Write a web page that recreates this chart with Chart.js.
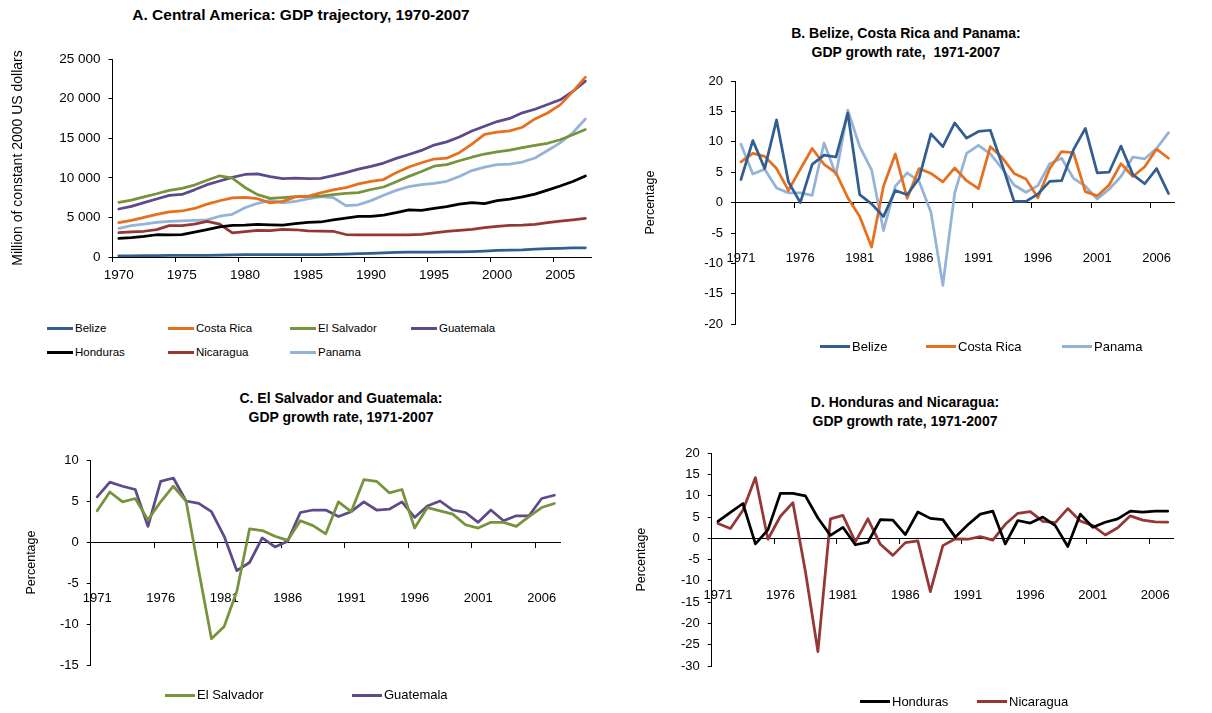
<!DOCTYPE html>
<html><head><meta charset="utf-8">
<script src="https://cdn.jsdelivr.net/npm/chart.js@4.4.1/dist/chart.umd.min.js"></script>
<style>
html,body{margin:0;padding:0;background:#fff}
body{width:1212px;height:713px;position:relative;overflow:hidden;font-family:"Liberation Sans",Arial,sans-serif;color:#000}
canvas{position:absolute}
.title{position:absolute;font-weight:bold;font-size:14px;line-height:19px;text-align:center;width:600px;white-space:nowrap}
.leg{position:absolute;display:flex;align-items:center;white-space:nowrap;height:16px;line-height:16px}
.leg i{display:inline-block;height:3px;margin-right:2px}
</style></head><body>
<div class="title" style="left:1px;top:5px;font-size:15.5px">A. Central America: GDP trajectory, 1970-2007</div>
<div class="title" style="left:606px;top:23.5px">B. Belize, Costa Rica and Panama:<br>GDP growth rate,&nbsp; 1971-2007</div>
<div class="title" style="left:41px;top:388.5px">C. El Salvador and Guatemala:<br>GDP growth rate, 1971-2007</div>
<div class="title" style="left:605px;top:392.5px">D. Honduras and Nicaragua:<br>GDP growth rate, 1971-2007</div>
<canvas id="cA" width="600" height="290" style="left:0;top:0"></canvas>
<canvas id="cB" width="606" height="340" style="left:606px;top:0"></canvas>
<canvas id="cC" width="600" height="333" style="left:0;top:380px"></canvas>
<canvas id="cD" width="606" height="333" style="left:606px;top:380px"></canvas>
<script>
// ---------- data ----------
const yearsA = ['1970','1971','1972','1973','1974','1975','1976','1977','1978','1979','1980','1981','1982','1983','1984','1985','1986','1987','1988','1989','1990','1991','1992','1993','1994','1995','1996','1997','1998','1999','2000','2001','2002','2003','2004','2005','2006','2007'];
const yearsG = ['1971','1972','1973','1974','1975','1976','1977','1978','1979','1980','1981','1982','1983','1984','1985','1986','1987','1988','1989','1990','1991','1992','1993','1994','1995','1996','1997','1998','1999','2000','2001','2002','2003','2004','2005','2006','2007'];
const gdpTicks = [0, 5000, 10000, 15000, 20000, 25000];

// Panel A: GDP, million of constant 2000 US dollars
const gdpBelize     = [145,151,166,175,199,206,206,219,236,254,291,295,294,287,293,297,309,344,376,425,470,525,588,624,625,627,635,657,681,740,831,872,915,1000,1046,1078,1138,1155];
const gdpCostaRica  = [4330,4630,5000,5390,5690,5810,6130,6670,7100,7470,7530,7360,6830,7020,7590,7650,8090,8480,8750,9240,9560,9780,10650,11360,11900,12370,12470,13170,14250,15490,15760,15930,16380,17430,18180,19210,20880,22700];
const gdpElSalvador = [6900,7180,7600,7990,8420,8660,9080,9690,10250,9950,8780,7870,7400,7510,7620,7670,7690,7890,8040,8120,8520,8840,9490,10180,10790,11460,11660,12150,12600,13000,13270,13490,13800,14100,14360,14810,15430,16090];
const gdpGuatemala  = [6060,6400,6870,7320,7780,7900,8480,9130,9600,10050,10420,10500,10140,9900,9950,9900,9920,10270,10660,11100,11440,11860,12450,12940,13460,14130,14540,15150,15900,16500,17100,17500,18200,18650,19250,19850,20900,22200];
const gdpHonduras   = [2360,2450,2600,2810,2780,2830,3130,3460,3810,3990,4020,4120,4060,4020,4200,4380,4420,4690,4910,5130,5140,5300,5600,5960,5880,6130,6350,6670,6870,6740,7120,7310,7590,7940,8450,8970,9540,10230];
const gdpNicaragua  = [3070,3180,3250,3460,3960,3950,4150,4500,4150,3050,3190,3360,3330,3490,3440,3300,3270,3250,2840,2790,2790,2780,2790,2780,2870,3040,3230,3360,3480,3720,3870,3990,4020,4120,4340,4530,4700,4880];
const gdpPanama     = [3620,3970,4150,4380,4490,4560,4630,4690,5150,5390,6210,6780,7150,6820,7010,7350,7630,7510,6490,6590,7120,7790,8410,8880,9140,9300,9560,10170,10910,11350,11660,11730,11990,12500,13440,14410,15690,17420];

// Panels B-D: GDP growth rate, percentage
const growthBelize     = [3.8,10.2,5.6,13.6,3.4,0.0,6.3,7.8,7.5,14.7, 1.3,-0.2,-2.3,2.0,1.3,4.0,11.3,9.2,13.1,10.6, 11.7,11.9,6.2,0.2,0.2,1.4,3.5,3.6,8.7,12.2, 4.9,5.0,9.3,4.6,3.1,5.6,1.5];
const growthCostaRica  = [6.7,8.1,7.6,5.6,2.0,5.5,8.9,6.3,4.9,0.8, -2.3,-7.3,2.7,8.0,0.7,5.6,4.8,3.4,5.7,3.6, 2.3,9.2,7.4,4.8,3.9,0.8,5.6,8.4,8.2,1.8, 1.1,2.9,6.4,4.3,5.9,8.8,7.3];
const growthPanama     = [9.6,4.7,5.5,2.4,1.6,1.6,1.2,9.8,4.6,15.2, 9.2,5.4,-4.6,2.7,4.9,3.5,-1.6,-13.6,1.6,8.1, 9.4,8.0,5.6,2.9,1.7,2.8,6.4,7.3,4.0,2.7, 0.6,2.2,4.3,7.5,7.2,8.9,11.5];
const growthElSalvador = [3.8,6.1,4.9,5.3,2.7,4.9,6.8,5.0,-3.5,-11.8, -10.3,-6.0,1.6,1.4,0.7,0.2,2.6,2.0,1.0,4.9, 3.7,7.6,7.4,6.0,6.4,1.7,4.2,3.8,3.4,2.1, 1.7,2.4,2.4,1.9,3.1,4.2,4.7];
const growthGuatemala  = [5.5,7.3,6.8,6.4,1.9,7.4,7.8,5.0,4.7,3.7, 0.7,-3.5,-2.5,0.5,-0.6,0.1,3.6,3.9,3.9,3.1, 3.7,4.9,3.9,4.0,4.9,3.0,4.4,5.0,3.9,3.6, 2.4,3.9,2.6,3.2,3.2,5.3,5.7];
const growthHonduras   = [4.0,6.1,8.2,-1.3,2.0,10.6,10.6,10.0,4.8,0.7, 2.6,-1.5,-0.9,4.4,4.3,0.9,6.2,4.7,4.4,0.3, 3.2,5.7,6.4,-1.3,4.2,3.6,5.0,3.0,-1.9,5.7, 2.6,3.8,4.6,6.4,6.2,6.4,6.4];
const growthNicaragua  = [3.5,2.3,6.6,14.3,-0.2,5.2,8.4,-7.8,-26.6,4.6, 5.4,-0.8,4.6,-1.4,-4.0,-1.0,-0.6,-12.5,-1.7,-0.1, -0.2,0.4,-0.4,3.3,5.9,6.3,4.0,3.7,7.0,4.1, 3.0,0.8,2.5,5.3,4.3,3.9,3.8];

const names  = ['Belize','Costa Rica','El Salvador','Guatemala','Honduras','Nicaragua','Panama'];
const colors = ['#335E92','#E5701F','#77933C','#5E4A8B','#000000','#953735','#95B3D7'];

// ---------- helpers ----------
Chart.defaults.font.family = '"Liberation Sans", Arial, sans-serif';
Chart.defaults.color = '#000';
const C = n => colors[names.indexOf(n)];

function ds(name, data) {
  return {label: name, data, borderColor: C(name), backgroundColor: C(name), borderWidth: 2.75,
          pointRadius: 0, pointHoverRadius: 0, tension: 0, fill: false,
          borderJoinStyle: 'round', borderCapStyle: 'round'};
}
function xScale(labels, position, pad, fsize, height) {
  const s = {
    type: 'category', labels, position, offset: true,
    grid: {offset: true, drawOnChartArea: false, drawTicks: true, tickLength: 5, lineWidth: 1,
           tickColor: c => (c.index !== undefined && c.index % 5 === 0) ? '#000' : 'rgba(0,0,0,0)'},
    border: {display: true, color: '#000', width: 1},
    ticks: {autoSkip: false, maxRotation: 0, minRotation: 0, padding: pad, font: {size: fsize},
            callback: (v, i) => (i % 5 === 0 ? labels[i] : '')}
  };
  if (height) s.afterFit = sc => { sc.height = height; };
  return s;
}
function yScale(min, max, step, fmt, title, width, fsize, tsize) {
  return {
    type: 'linear', min, max,
    ticks: {stepSize: step, padding: 8, font: {size: fsize}, callback: fmt},
    grid: {drawOnChartArea: false, drawTicks: true, tickLength: 4, tickColor: '#000'},
    border: {display: true, color: '#000', width: 1},
    title: {display: true, text: title, font: {size: tsize}, padding: {top: 0, bottom: 0}},
    afterFit: sc => { sc.width = width; }
  };
}
function make(id, labels, datasets, scales, padding) {
  new Chart(document.getElementById(id), {
    type: 'line',
    data: {labels, datasets},
    options: {
      responsive: false, animation: false, events: [],
      layout: {padding},
      plugins: {legend: {display: false}, tooltip: {enabled: false}, title: {display: false}},
      scales
    }
  });
}
const spaceFmt = v => String(v).replace(/\B(?=(\d{3})+(?!\d))/g, ' ');
const plainFmt = v => String(v);

// ---------- Panel A ----------
make('cA', yearsA, [
  ds('Belize', gdpBelize), ds('Costa Rica', gdpCostaRica), ds('El Salvador', gdpElSalvador),
  ds('Guatemala', gdpGuatemala), ds('Honduras', gdpHonduras), ds('Nicaragua', gdpNicaragua),
  ds('Panama', gdpPanama)
], {
  x: xScale(yearsA, 'bottom', 4.9, 13.5, 33),
  y: yScale(gdpTicks[0], gdpTicks[gdpTicks.length-1], gdpTicks[1]-gdpTicks[0], spaceFmt,
       'Million of constant 2000 US dollars', 102.9, 13.5, 14)
}, {left: 9.6, top: 59, right: 8.3, bottom: 0});

// ---------- Panel B ----------
make('cB', yearsG, [
  ds('Belize', growthBelize), ds('Costa Rica', growthCostaRica), ds('Panama', growthPanama)
], {
  x: xScale(yearsG, {y: 0}, 43.4, 13),
  y: yScale(-20, 20, 5, plainFmt, 'Percentage', 91.5, 13, 12.5)
}, {left: 37.5, top: 81, right: 8.5, bottom: 10});

// ---------- Panel C ----------
make('cC', yearsG, [
  ds('El Salvador', growthElSalvador), ds('Guatemala', growthGuatemala)
], {
  x: xScale(yearsG, {y: 0}, 43.9, 13),
  y: yScale(-15, 10, 5, plainFmt, 'Percentage', 66.6, 13, 12.5)
}, {left: 24.2, top: 80, right: 39.3, bottom: 48});

// ---------- Panel D ----------
make('cD', yearsG, [
  ds('Honduras', growthHonduras), ds('Nicaragua', growthNicaragua)
], {
  x: xScale(yearsG, {y: 0}, 44.2, 13),
  y: yScale(-30, 20, 5, plainFmt, 'Percentage', 77.5, 13, 12.5)
}, {left: 28.2, top: 73.3, right: 4, bottom: 47});

// ---------- legends (HTML) ----------
const legendLayout = [
  {size: 11.5, len: 26, items: [['Belize',47,328],['Costa Rica',168,328],['El Salvador',290,328],['Guatemala',411,328],
                                 ['Honduras',47,352],['Nicaragua',168,352],['Panama',290,352]]},
  {size: 13, len: 30, items: [['Belize',820,346.7],['Costa Rica',926,346.7],['Panama',1062,346.7]]},
  {size: 13, len: 30, items: [['El Salvador',165,695],['Guatemala',352,695]]},
  {size: 13, len: 30, items: [['Honduras',860,701.5],['Nicaragua',977,701.5]]}
];
legendLayout.forEach(g => g.items.forEach(([n, x, y]) => {
  const d = document.createElement('div');
  d.className = 'leg';
  d.style.left = x + 'px';
  d.style.top = (y - 8) + 'px';
  d.style.fontSize = g.size + 'px';
  const sw = document.createElement('i');
  sw.style.width = g.len + 'px';
  sw.style.background = C(n);
  d.appendChild(sw);
  d.appendChild(document.createTextNode(n));
  document.body.appendChild(d);
}));
</script>
</body></html>
